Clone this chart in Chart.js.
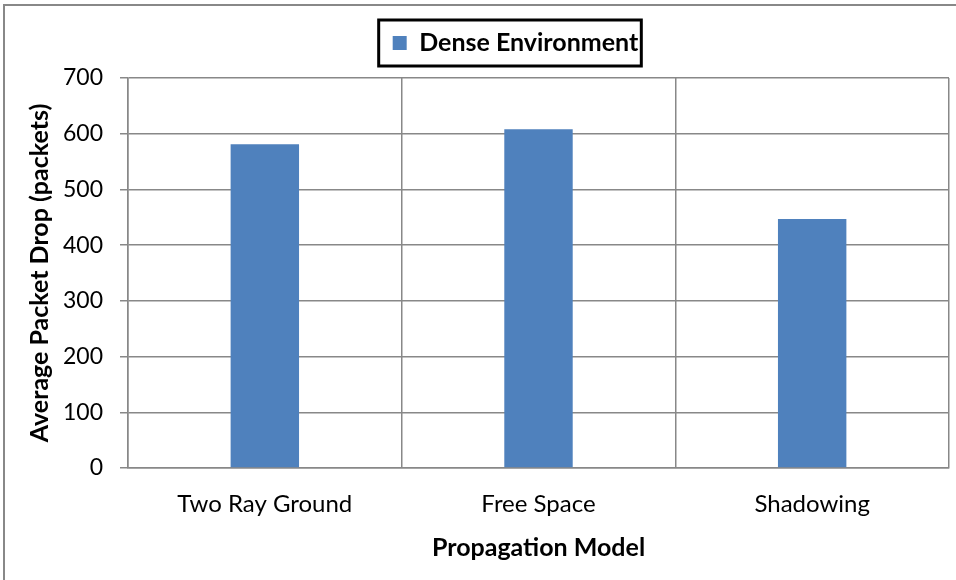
<!DOCTYPE html>
<html>
<head>
<meta charset="utf-8">
<script src="https://cdn.jsdelivr.net/npm/chart.js@4.4.1/dist/chart.umd.min.js"></script>
<style>
  body { margin: 0; background: #fff; }
  #wrap { width: 956px; height: 580px; }
</style>
</head>
<body>
<div id="wrap"><canvas id="myChart" width="956" height="580"></canvas></div>
<script>
var models = ['Two Ray Ground', 'Free Space', 'Shadowing'];
var denseDrop = [581, 608, 447];
var yTicks = [0, 100, 200, 300, 400, 500, 600, 700];

var gridGrey = '#888888';
var fontFamily = 'Lato, "Open Sans", sans-serif';

// legend sits a bit right of centre and tight above the plot
var legendShift = { x: 41, y: -12.5 };

var framePlugin = {
    id: 'frame',
    beforeDraw: function (chart) {
        var ctx = chart.ctx;
        ctx.save();
        ctx.strokeStyle = gridGrey;
        ctx.lineWidth = 2;
        ctx.beginPath();
        ctx.moveTo(4, chart.height + 5);
        ctx.lineTo(4, 5);
        ctx.lineTo(chart.width + 5, 5);
        ctx.stroke();
        ctx.restore();
    },
    afterLayout: function (chart) {
        var lg = chart.legend;
        lg.left += legendShift.x;
        lg.right += legendShift.x;
        lg.top += legendShift.y;
        lg.bottom += legendShift.y;
    },
    afterDraw: function (chart) {
        var hb = chart.legend.legendHitBoxes[0];
        if (!hb) return;
        var ctx = chart.ctx;
        var cy = hb.top + hb.height / 2;
        ctx.save();
        ctx.strokeStyle = '#000';
        ctx.lineWidth = 3;
        ctx.strokeRect(hb.left - 14, cy - 23, hb.width + 17, 46);
        ctx.restore();
    }
};

var chartdata = {
    labels: models,
    datasets: [{
        label: 'Dense Environment',
        data: denseDrop,
        backgroundColor: '#4F81BD',
        borderWidth: 0,
        categoryPercentage: 1,
        barPercentage: 0.25
    }]
};

var ctx = document.getElementById('myChart');
var barGraph = new Chart(ctx, {
    type: 'bar',
    data: chartdata,
    plugins: [framePlugin],
    options: {
        responsive: false,
        animation: false,
        layout: {
            padding: { top: 13, right: 7, bottom: 0, left: 0 }
        },
        plugins: {
            legend: {
                position: 'top',
                labels: {
                    boxWidth: 14,
                    boxHeight: 14,
                    padding: 30,
                    color: '#000',
                    font: { family: fontFamily, size: 25, weight: 'bold' }
                }
            },
            tooltip: { enabled: false }
        },
        scales: {
            x: {
                grid: {
                    color: gridGrey,
                    lineWidth: 1.5,
                    drawTicks: false
                },
                border: { color: gridGrey, width: 1.5 },
                ticks: {
                    color: '#000',
                    padding: 22,
                    font: { family: fontFamily, size: 24 }
                },
                title: {
                    display: true,
                    text: 'Propagation Model',
                    color: '#000',
                    font: { family: fontFamily, size: 25, weight: 'bold' },
                    padding: { top: 0, bottom: 17 }
                },
                afterFit: function (scale) { scale.height = 112; }
            },
            y: {
                min: 0,
                max: 700,
                afterBuildTicks: function (scale) {
                    scale.ticks = yTicks.map(function (v) { return { value: v }; });
                },
                grid: {
                    color: gridGrey,
                    lineWidth: 1.5,
                    tickLength: 8
                },
                border: { color: gridGrey, width: 1.5 },
                ticks: {
                    color: '#000',
                    padding: 17,
                    font: { family: fontFamily, size: 23 }
                },
                title: {
                    display: true,
                    text: 'Average Packet Drop (packets)',
                    color: '#000',
                    font: { family: fontFamily, size: 25, weight: 'bold' },
                    padding: { top: 25, bottom: 0 }
                },
                afterFit: function (scale) { scale.width = 128; }
            }
        }
    }
});
</script>
</body>
</html>
